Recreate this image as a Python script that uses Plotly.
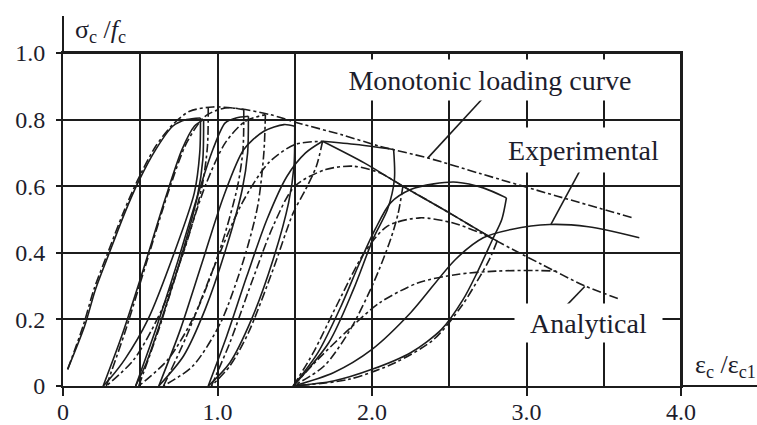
import plotly.graph_objects as go

# ---- Cyclic compression of concrete: normalised stress vs normalised strain ----
# Each curve is a list of (eps_c/eps_c1, sigma_c/f_c) points.

# Experimental response (solid)
exp_envelope = [(0.03, 0.05), (0.14, 0.18), (0.21, 0.29), (0.30, 0.40), (0.40, 0.52),
                (0.49, 0.615), (0.60, 0.71), (0.71, 0.78), (0.80, 0.80), (0.89, 0.805)]
exp_unload_1 = [(0.89, 0.805), (0.885, 0.70), (0.85, 0.58), (0.72, 0.40), (0.55, 0.20),
                (0.40, 0.08), (0.30, 0.02), (0.26, 0.0)]
exp_reload_1 = [(0.26, 0.0), (0.38, 0.15), (0.52, 0.35), (0.66, 0.56), (0.77, 0.71),
                (0.85, 0.78), (0.91, 0.80)]
exp_unload_2 = [(0.91, 0.80), (0.905, 0.68), (0.87, 0.57), (0.76, 0.38), (0.63, 0.19),
                (0.54, 0.07), (0.47, 0.0)]
exp_reload_2 = [(0.47, 0.0), (0.60, 0.17), (0.74, 0.37), (0.87, 0.57), (0.97, 0.71),
                (1.05, 0.79), (1.12, 0.805), (1.20, 0.81)]
exp_unload_3 = [(1.20, 0.81), (1.195, 0.70), (1.16, 0.59), (1.06, 0.42), (0.92, 0.23),
                (0.78, 0.09), (0.62, 0.0)]
exp_reload_3 = [(0.62, 0.0), (0.76, 0.17), (0.90, 0.37), (1.04, 0.57), (1.17, 0.71),
                (1.30, 0.765), (1.43, 0.785), (1.50, 0.78)]
exp_unload_4 = [(1.50, 0.78), (1.495, 0.66), (1.46, 0.55), (1.36, 0.38), (1.22, 0.20),
                (1.08, 0.07), (0.94, 0.0)]
exp_reload_4 = [(0.94, 0.0), (1.06, 0.15), (1.19, 0.33), (1.32, 0.50), (1.45, 0.63),
                (1.57, 0.70), (1.68, 0.735)]
exp_plateau_5 = [(1.68, 0.735), (1.90, 0.725), (2.14, 0.71)]
exp_softening = [(1.68, 0.735), (1.95, 0.67), (2.20, 0.60), (2.50, 0.52), (2.81, 0.435)]
exp_unload_5 = [(2.14, 0.71), (2.145, 0.62), (2.10, 0.53), (2.01, 0.445), (1.88, 0.29),
                (1.72, 0.13), (1.49, 0.0)]
exp_reload_5 = [(1.49, 0.0), (1.65, 0.10), (1.80, 0.24), (1.92, 0.37), (2.02, 0.47),
                (2.12, 0.55), (2.25, 0.59), (2.40, 0.607), (2.55, 0.612), (2.72, 0.595),
                (2.87, 0.565)]
exp_unload_6 = [(2.87, 0.565), (2.84, 0.50), (2.78, 0.44), (2.68, 0.34), (2.59, 0.26),
                (2.45, 0.17), (2.25, 0.10), (2.00, 0.05), (1.75, 0.015), (1.49, 0.0)]
exp_reload_6 = [(1.49, 0.0), (1.75, 0.04), (2.00, 0.11), (2.25, 0.22), (2.54, 0.38),
                (2.72, 0.445), (2.90, 0.47), (3.15, 0.485), (3.40, 0.478), (3.73, 0.445)]

# Monotonic loading curve (dash-dot)
monotonic = [(0.03, 0.05), (0.13, 0.18), (0.20, 0.29), (0.29, 0.40), (0.39, 0.52),
             (0.48, 0.615), (0.60, 0.72), (0.71, 0.785), (0.82, 0.825), (0.97, 0.838),
             (1.15, 0.832), (1.34, 0.815), (1.52, 0.79), (1.80, 0.755), (2.05, 0.72),
             (2.36, 0.685), (2.70, 0.638), (3.20, 0.57), (3.69, 0.505)]

# Analytical model (dash-dot)
ana_unload_1 = [(0.94, 0.836), (0.935, 0.72), (0.90, 0.60), (0.80, 0.43), (0.64, 0.23),
                (0.46, 0.08), (0.28, 0.0)]
ana_reload_1 = [(0.28, 0.0), (0.40, 0.16), (0.54, 0.37), (0.68, 0.58), (0.80, 0.73),
                (0.92, 0.81), (1.05, 0.835), (1.17, 0.83)]
ana_unload_2 = [(1.17, 0.83), (1.165, 0.71), (1.13, 0.60), (1.03, 0.43), (0.86, 0.22),
                (0.68, 0.08), (0.49, 0.0)]
ana_reload_2 = [(0.49, 0.0), (0.62, 0.17), (0.77, 0.39), (0.92, 0.60), (1.05, 0.73),
                (1.18, 0.795), (1.31, 0.815)]
ana_unload_3 = [(1.31, 0.815), (1.30, 0.70), (1.26, 0.54), (1.17, 0.38), (1.02, 0.19),
                (0.84, 0.06), (0.65, 0.0)]
ana_reload_3 = [(0.65, 0.0), (0.80, 0.15), (0.98, 0.36), (1.16, 0.55), (1.33, 0.67),
                (1.50, 0.725), (1.68, 0.735)]
ana_unload_4 = [(1.68, 0.735), (1.64, 0.66), (1.57, 0.59), (1.49, 0.52), (1.36, 0.35),
                (1.20, 0.16), (1.08, 0.06), (0.96, 0.0)]
ana_reload_4 = [(0.96, 0.0), (1.08, 0.13), (1.22, 0.31), (1.36, 0.48), (1.50, 0.60),
                (1.70, 0.65), (1.88, 0.66), (2.05, 0.64), (2.20, 0.60)]
ana_unload_5 = [(2.20, 0.60), (2.17, 0.52), (2.12, 0.44), (2.01, 0.31), (1.86, 0.17),
                (1.69, 0.06), (1.49, 0.0)]
ana_softening = [(2.20, 0.60), (2.50, 0.52), (2.81, 0.435), (3.10, 0.365), (3.38, 0.30),
                 (3.61, 0.26)]
ana_reload_5 = [(1.49, 0.0), (1.62, 0.10), (1.78, 0.25), (1.95, 0.40), (2.10, 0.48),
                (2.31, 0.505), (2.52, 0.49), (2.70, 0.46), (2.81, 0.435)]
ana_unload_6 = [(2.81, 0.435), (2.76, 0.38), (2.70, 0.33), (2.58, 0.24), (2.40, 0.14),
                (2.15, 0.07), (1.85, 0.02), (1.49, 0.0)]
ana_reload_6 = [(1.49, 0.0), (1.65, 0.08), (1.85, 0.17), (2.05, 0.25), (2.30, 0.31),
                (2.55, 0.335), (2.80, 0.345), (3.05, 0.347), (3.20, 0.345)]

# Axis ticks
x_tick_vals = [0, 1, 2, 3, 4]
x_tick_text = ["0", "1.0", "2.0", "3.0", "4.0"]
x_grid_minor = [0.5, 1.5, 2.5, 3.5]
y_tick_vals = [0, 0.2, 0.4, 0.6, 0.8, 1.0]
y_tick_text = ["0", "0.2", "0.4", "0.6", "0.8", "1.0"]

experimental = [exp_envelope, exp_unload_1, exp_reload_1, exp_unload_2, exp_reload_2,
                exp_unload_3, exp_reload_3, exp_unload_4, exp_reload_4, exp_plateau_5,
                exp_softening, exp_unload_5, exp_reload_5, exp_unload_6, exp_reload_6]
analytical = [monotonic, ana_unload_1, ana_reload_1, ana_unload_2, ana_reload_2,
              ana_unload_3, ana_reload_3, ana_unload_4, ana_reload_4, ana_unload_5,
              ana_softening, ana_reload_5, ana_unload_6, ana_reload_6]

INK = "#1c1c1c"
TEXT = "#1d1d2c"
FONT = "Liberation Serif"
DASHDOT = "9px,3px,3px,3px"

fig = go.Figure()

def add_curve(points, dash):
    fig.add_trace(go.Scatter(
        x=[p[0] for p in points], y=[p[1] for p in points],
        mode="lines", line=dict(color=INK, width=1.6, dash=dash,
                                shape="spline", smoothing=0.8),
        hoverinfo="skip", showlegend=False))

for c in analytical:
    add_curve(c, DASHDOT)
for c in experimental:
    add_curve(c, "solid")

axis_common = dict(showline=True, linecolor=INK, linewidth=2, mirror=True,
                   showgrid=True, gridcolor=INK, gridwidth=2, zeroline=False,
                   automargin=False,
                   ticks="outside", tickcolor=INK, tickwidth=2,
                   tickfont=dict(family=FONT, size=24, color=TEXT))

fig.update_layout(
    width=757, height=425,
    margin=dict(l=63, r=76, t=53, b=39),
    paper_bgcolor="white", plot_bgcolor="white",
    xaxis=dict(range=[0, 4], tickvals=x_tick_vals, ticktext=x_tick_text, ticklen=8,
               minor=dict(tickvals=x_grid_minor, showgrid=True, gridcolor=INK,
                          gridwidth=2, ticks=""),
               ticklabelstandoff=-5, **axis_common),
    yaxis=dict(range=[0, 1.0], tickvals=y_tick_vals, ticktext=y_tick_text, ticklen=5,
               ticklabelstandoff=6, **axis_common),
)

# Frame: top and right edges of the grid, plus axis line extensions
frame_line = dict(color=INK, width=2)
fig.add_shape(type="line", xref="paper", yref="paper", x0=0, x1=1, y0=1, y1=1,
              line=frame_line)
fig.add_shape(type="line", xref="paper", yref="paper", x0=1, x1=1, y0=0, y1=1,
              line=frame_line)
fig.add_shape(type="line", xref="paper", yref="paper", x0=1, x1=1.125, y0=0, y1=0,
              line=frame_line)
fig.add_shape(type="line", xref="paper", yref="paper", x0=0, x1=0, y0=1, y1=1.111,
              line=frame_line)

# Axis titles
fig.add_annotation(xref="paper", yref="paper", x=0.016, y=1.066,
                   xanchor="left", yanchor="middle", showarrow=False,
                   text="σ<sub>c</sub> /<i>f</i><sub>c</sub>",
                   font=dict(family=FONT, size=26, color=TEXT))
fig.add_annotation(xref="paper", yref="paper", x=1.019, y=0.06,
                   xanchor="left", yanchor="middle", showarrow=False,
                   text="ε<sub>c</sub> /ε<sub>c1</sub>",
                   font=dict(family=FONT, size=26, color=TEXT))

# Curve labels on white boxes that interrupt the grid
labels = [
    ("Monotonic loading curve", 2.764, 0.919, 320, 40),
    ("Experimental", 3.366, 0.709, 165, 44),
    ("Analytical", 3.40, 0.19, 147, 38),
]
for text, x, y, w, h in labels:
    fig.add_annotation(x=x, y=y, text=text, showarrow=False, width=w, height=h,
                       bgcolor="white", borderpad=0,
                       font=dict(family=FONT, size=28, color=TEXT))

# Leader lines from labels to curves
leaders = [((2.725, 0.868), (2.362, 0.685)),
           ((3.366, 0.664), (3.159, 0.486)),
           ((3.236, 0.231), (3.377, 0.299))]
for (x0, y0), (x1, y1) in leaders:
    fig.add_shape(type="line", xref="x", yref="y", x0=x0, y0=y0, x1=x1, y1=y1,
                  line=dict(color=INK, width=1.6), layer="above")

fig.write_html("out.html")
